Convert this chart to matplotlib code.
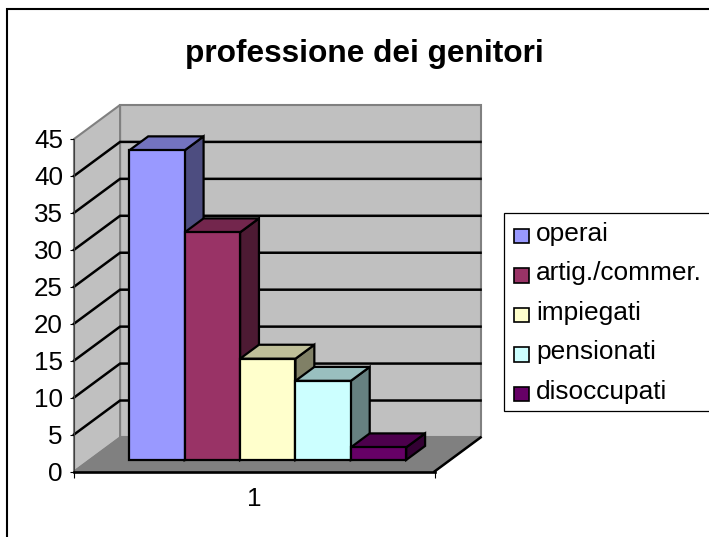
import matplotlib
matplotlib.use('Agg')
import matplotlib.pyplot as plt
from matplotlib.patches import Rectangle
from matplotlib.colors import to_rgb

plt.rcParams['font.family'] = ['Liberation Sans', 'DejaVu Sans']

# data
categories = ['operai', 'artig./commer.', 'impiegati', 'pensionati', 'disoccupati']
values = [41.9, 30.8, 13.7, 10.7, 1.7]
colors = ['#9999FF', '#993366', '#FFFFCC', '#CCFFFF', '#660066']
y_ticks = [0, 5, 10, 15, 20, 25, 30, 35, 40, 45]
x_labels = ['1']
title = 'professione dei genitori'

W, H = 709, 537

# fake 3d: depth 0 is the front plane, depth 1 the back wall
DX = 46 / 360.0
DY = 34 / 7.38
bar_w = 55.3 / 360.0
bar_x0 = 0.61
bar_d0 = 0.34
bar_d1 = 0.75


def pr(x, y, d):
    return x + d * DX, y + d * DY


def face(ax, pts, color, ec='black', lw=1.6):
    xs = [p[0] for p in pts]
    ys = [p[1] for p in pts]
    ax.fill(xs, ys, facecolor=color, edgecolor=ec, lw=lw, clip_on=False, zorder=1, joinstyle='miter')


def shade(c, k):
    return tuple(v * k for v in to_rgb(c))


fig = plt.figure(figsize=(W / 100.0, H / 100.0), dpi=100)

# overlay in pixels for the frame, title and legend
ov = fig.add_axes([0, 0, 1, 1])
ov.set_xlim(0, W)
ov.set_ylim(H, 0)
ov.axis('off')
ov.add_patch(Rectangle((7, 9), W, H, fc='white', ec='black', lw=1.5, clip_on=True))
ov.text(364, 54, title, ha='center', va='center', fontsize=22.8, fontweight='bold')

ov.add_patch(Rectangle((504, 213), W, 198, fc='white', ec='black', lw=0.9))
for i, name in enumerate(categories):
    yc = 235.7 + i * 39.5
    ov.add_patch(Rectangle((514, yc - 7), 14.5, 14.5, fc=colors[i], ec='black', lw=1.2))
    ov.text(536, yc - 2, name, ha='left', va='center', fontsize=18.9)

# main axes sits on the front plane
ax = fig.add_axes([74 / W, 1 - 471.5 / H, 360.5 / W, 332.5 / H])
ax.patch.set_visible(False)
ax.set_xlim(0.5, 1.5)
ax.set_ylim(0, 45)

xa, xb = 0.5, 1.5
top = y_ticks[-1]
wall = '#C0C0C0'
edge = '#808080'

# back wall, left wall, floor
face(ax, [pr(xa, 0, 1), pr(xb, 0, 1), pr(xb, top, 1), pr(xa, top, 1)], wall, ec=edge, lw=1.5)
face(ax, [pr(xa, 0, 0), pr(xa, 0, 1), pr(xa, top, 1), pr(xa, top, 0)], wall, ec=edge, lw=1.5)
face(ax, [pr(xa, 0, 0), pr(xb, 0, 0), pr(xb, 0, 1), pr(xa, 0, 1)], edge, ec=edge, lw=1.0)

for t in y_ticks[1:-1]:
    p0 = pr(xa, t, 0)
    p1 = pr(xa, t, 1)
    p2 = pr(xb, t, 1)
    ax.plot([p0[0], p1[0], p2[0]], [p0[1], p1[1], p2[1]], color='black', lw=1.8,
            clip_on=False, zorder=1, solid_joinstyle='miter')

# right floor edge
p0 = pr(xb, 0, 0)
p1 = pr(xb, 0, 1)
ax.plot([p0[0], p1[0]], [p0[1], p1[1]], color='black', lw=1.8, clip_on=False, zorder=1)

# bars go left to right so each one covers the side of the one before
for i, v in enumerate(values):
    x0 = bar_x0 + i * bar_w
    x1 = x0 + bar_w
    c = colors[i]
    face(ax, [pr(x1, 0, bar_d0), pr(x1, 0, bar_d1), pr(x1, v, bar_d1), pr(x1, v, bar_d0)], shade(c, 0.5))
    face(ax, [pr(x0, v, bar_d0), pr(x1, v, bar_d0), pr(x1, v, bar_d1), pr(x0, v, bar_d1)], shade(c, 0.75))
    face(ax, [pr(x0, 0, bar_d0), pr(x1, 0, bar_d0), pr(x1, v, bar_d0), pr(x0, v, bar_d0)], c)

ax.spines['top'].set_visible(False)
ax.spines['right'].set_visible(False)
ax.spines['left'].set_linewidth(0.8)
ax.spines['left'].set_color('#404040')
ax.spines['bottom'].set_linewidth(1.9)

ax.set_yticks(y_ticks)
ax.set_xticks([1])
ax.set_xticklabels(x_labels)
ax.set_xticks([xa, xb], minor=True)
ax.tick_params(axis='y', length=3, width=0.8, labelsize=18.7, pad=5)
ax.tick_params(axis='x', which='major', length=0, labelsize=18.7, pad=11)
ax.tick_params(axis='x', which='minor', length=4, width=0.8)

fig.savefig('out.png', dpi=100)
